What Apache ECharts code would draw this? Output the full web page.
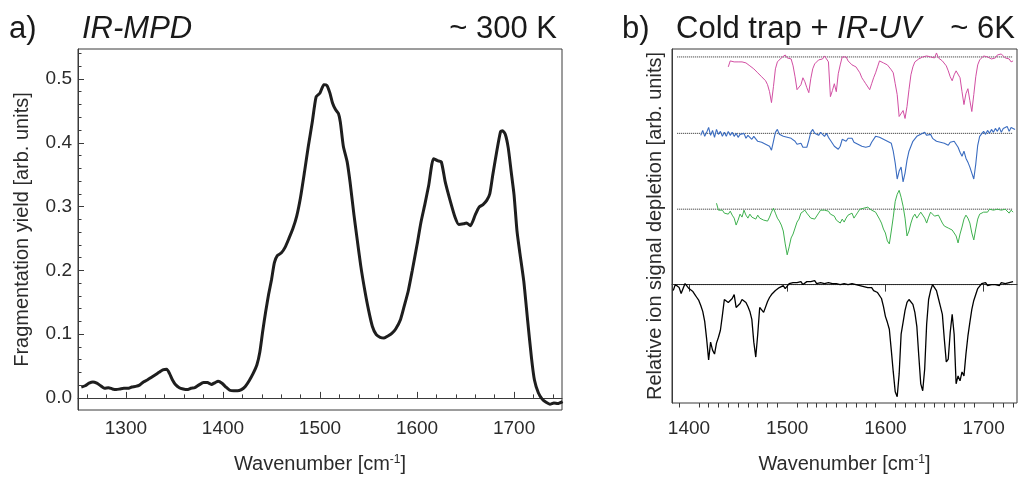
<!DOCTYPE html>
<html><head><meta charset="utf-8">
<script src="https://cdn.jsdelivr.net/npm/echarts@6/dist/echarts.min.js"></script>
<style>html,body{margin:0;padding:0;background:#fff}#c{width:1020px;height:479px}</style>
</head><body><div id="c"></div>
<script>
// ---------- Panel a) IR-MPD (~300 K) ----------
const irmpdWn = [1254,1258,1262,1266,1270,1274,1278,1282,1286,1290,1294,1298,1302,1306,1310,1314,1318,1322,1326,1330,1334,1338,1342,1345,1348,1351,1355,1359,1363,1367,1371,1375,1380,1384,1388,1392,1395,1399,1403,1407,1411,1415,1419,1423,1427,1431,1435,1438,1441,1444,1447,1450,1453,1456,1460,1464,1468,1472,1476,1480,1484,1488,1492,1496,1500,1504,1507,1510,1513,1516,1519,1521,1524,1528,1531,1535,1538,1542,1546,1550,1554,1558,1562,1566,1570,1574,1578,1583,1587,1591,1595,1600,1604,1608,1612,1617,1621,1625,1629,1634,1639,1643,1648,1651,1655,1660,1664,1668,1672,1675,1678,1682,1686,1688,1691,1694,1697,1700,1703,1706,1710,1714,1718,1721,1725,1729,1733,1737,1741,1745,1750];
const irmpdYield = [0.017,0.019,0.023,0.025,0.023,0.019,0.015,0.016,0.014,0.013,0.014,0.015,0.015,0.017,0.018,0.020,0.025,0.028,0.032,0.036,0.040,0.044,0.045,0.038,0.028,0.021,0.016,0.014,0.013,0.015,0.016,0.020,0.024,0.024,0.021,0.024,0.026,0.023,0.017,0.012,0.011,0.011,0.013,0.018,0.027,0.038,0.052,0.072,0.105,0.135,0.162,0.185,0.212,0.223,0.227,0.236,0.250,0.265,0.285,0.315,0.354,0.395,0.432,0.472,0.478,0.491,0.490,0.479,0.462,0.452,0.446,0.432,0.395,0.370,0.338,0.287,0.252,0.207,0.170,0.138,0.112,0.099,0.095,0.094,0.097,0.101,0.108,0.123,0.145,0.168,0.199,0.240,0.275,0.303,0.333,0.375,0.372,0.370,0.339,0.310,0.284,0.272,0.273,0.274,0.270,0.287,0.299,0.303,0.310,0.320,0.349,0.385,0.417,0.419,0.413,0.392,0.355,0.318,0.262,0.227,0.183,0.121,0.062,0.028,0.008,-0.002,-0.007,-0.010,-0.008,-0.009,-0.006];
const xTicksA = [1300,1400,1500,1600,1700];
const yTicksA = [0.0,0.1,0.2,0.3,0.4,0.5];

// ---------- Panel b) Cold trap + IR-UV (~6 K) ----------
const wnB = [1384,1386,1388,1390,1392,1394,1396,1398,1400,1402,1404,1406,1408,1410,1412,1414,1416,1418,1420,1422,1424,1426,1428,1430,1432,1434,1436,1438,1440,1442,1444,1446,1448,1450,1452,1454,1456,1458,1460,1462,1464,1466,1468,1470,1472,1474,1476,1478,1480,1482,1484,1486,1488,1490,1492,1494,1496,1498,1500,1502,1504,1506,1508,1510,1512,1514,1516,1518,1520,1522,1524,1526,1528,1530,1532,1534,1536,1538,1540,1542,1544,1546,1548,1550,1552,1554,1556,1558,1560,1562,1564,1566,1568,1570,1572,1574,1576,1578,1580,1582,1584,1586,1588,1590,1592,1594,1596,1598,1600,1602,1604,1606,1608,1610,1612,1614,1616,1618,1620,1622,1624,1626,1628,1630,1632,1634,1636,1638,1640,1642,1644,1646,1648,1650,1652,1654,1656,1658,1660,1662,1664,1666,1668,1670,1672,1674,1676,1678,1680,1682,1684,1686,1688,1690,1692,1694,1696,1698,1700,1702,1704,1706,1708,1710,1712,1714,1716,1718,1720,1722,1724,1726,1728,1730,1732];

const pinkFrom = 1440;
const pinkDep = [-10,-4,-3,-5,-3,-5,-3,-5,-3,-6, -6,-9,-8,-12,-14,-16,-16,-20,-22,-24, -28,-35,-46,-30,-12,-5,-4,-1,-2,2, -1,0,-2,-9,-20,-33,-32,-28,-21,-25, -31,-36,-22,-12,-7,-6,-3,-3,-2,1, -2,-5,-40,-34,-27,-35,-17,-8,0,2, 0,-4,-3,-8,-9,-10,-12,-16,-21,-24, -27,-29,-33,-27,-21,-16,-10,-4,-6,-6, -7,-8,-10,-13,-16,-27,-38,-60,-60,-54, -62,-50,-33,-18,-10,-5,-3,-2,-1,0, -1,1,-1,0,2,-1,4,-1,-2,-4, -6,-9,-14,-20,-24,-18,-14,-15,-21,-35, -48,-37,-32,-44,-55,-38,-20,-8,-3,-2, 1,-1,0,1,-2,0,-1,2,1,3, 2,-1,0,-2,-5,-4];

const blueFrom = 1412;
const blueDep = [-2,3,-3,1,6,-2,3,-4,4,-1, 2,-3,1,-3,2,-2,1,-3,0,-4, -1,-3,0,-5,-2,-4,-6,-3,-5,-8, -6,-9,-8,-11,-12,-13,-17,-8,1,4, -1,1,-3,-1,-4,-2,-5,-4,-8,-11, -13,-10,-14,-12,-14,-7,1,4,0,1, -2,1,-1,-3,0,-4,-7,-9,-13,-11, -16,-13,-6,-4,-8,-5,-7,-5,-9,-7, -11,-10,-13,-11,-14,-12,-13,-9,-7,-3, -1,-4,-2,-6,-5,-8,-6,-10,-18,-30, -46,-38,-34,-49,-40,-27,-18,-13,-8,-6, -3,-5,-1,-3,1,-2,-4,-1,-5,-3, -8,-6,-9,-7,-10,-8,-12,-9,-11,-8, -10,-14,-19,-23,-18,-25,-29,-34,-40,-46, -31,-12,-3,-1,2,-1,3,0,4,1, 5,2,6,1,5,3,7,2,6,8,4];

const greenFrom = 1428;
const greenDep = [6,-1,-3,-1,-4,-3,-5,-2,-6,-9, -16,-11,-5,-8,-1,-6,-9,-5,-8,-7, -10,-6,-9,-7,-11,-9,-12,-8,-3,1, -4,-9,-12,-16,-22,-35,-46,-38,-29,-25, -19,-13,-10,-4,-2,-1,-4,-6,-9,-7, -10,-8,-4,-1,-3,-1,-3,-2,-5,-4, -7,-11,-9,-14,-10,-13,-9,-6,-7,-4, -9,-6,-3,0,-2,1,-1,2,0,-1, 1,-3,-5,-10,-14,-20,-24,-32,-35,-22, -8,8,15,19,12,3,-9,-27,-22,-14, -8,-5,-9,-6,-3,-4,-9,-14,-8,-3, -4,-7,-9,-6,-10,-14,-17,-15,-19,-18, -21,-20,-27,-34,-25,-18,-10,-6,-9,-14, -24,-31,-20,-10,-5,-7,-3,-1,-3,0, -2,-1,-3,0,-2,-1,-3,0,-2,-4, -1,-3];

const blackFrom = 1384;
const blackDep = [-6,0,2,-3,-9,-4,1,-1,-4,-3, -7,-10,-13,-16,-21,-27,-37,-55,-76,-58, -66,-70,-59,-53,-46,-31,-15,-14,-18,-20, -14,-10,-23,-21,-19,-15,-13,-18,-22,-27, -35,-58,-73,-50,-23,-22,-28,-30,-17,-13, -10,-8,-6,-7,-3,-4,-1,-4,-2,1, -1,2,0,2,1,3,0,2,3,1, 3,2,4,1,3,2,4,1,3,2, 4,1,3,1,2,0,2,1,3,0, 2,1,2,0,1,-1,1,-2,-1,-3, -2,-3,-6,-5,-8,-10,-14,-22,-32,-38, -45,-66,-88,-108,-113,-90,-50,-38,-26,-18, -15,-17,-20,-28,-42,-72,-100,-107,-85,-40, -15,-6,0,-3,-6,-14,-22,-30,-55,-78, -75,-48,-30,-50,-100,-92,-97,-88,-92,-70, -52,-38,-25,-16,-10,-4,-2,1,0,2, -1,1,0,2,0,1,-1,2,0,1, -1,2,1,3];

const traceOffsets = [229.4, 152.4, 76.0, 0];   // pink, blue, green, black
const baselineFrom = 1388, baselineTo = 1729;
const xTicksB = [1400,1500,1600,1700];

// ---------- build ----------
const FF = 'Liberation Sans, Arial, Helvetica, sans-serif';
const TXT = '#2b2b2b';
const AX = '#3a3a3a';

const minorA = [];
for (let v = 1260; v <= 1740; v += 20) if (xTicksA.indexOf(v) < 0) minorA.push(v);
const minorYA = [];
for (let k = 0; k <= 27; k++) { if (k % 5 !== 0) minorYA.push(Math.round(k * 2) / 100); }
const minorB = [];
for (let v = 1390; v <= 1730; v += 10) if (xTicksB.indexOf(v) < 0) minorB.push(v);

const irmpdData = irmpdWn.map((w, i) => [w, irmpdYield[i]]);
function trace(from, dep, off) {
  const i0 = wnB.indexOf(from);
  return dep.map((v, k) => [wnB[i0 + k], v + off]);
}
const traces = [
  {d: trace(pinkFrom, pinkDep, traceOffsets[0]), c: '#d24fa3', w: 1},
  {d: trace(blueFrom, blueDep, traceOffsets[1]), c: '#3a6cc0', w: 1.1},
  {d: trace(greenFrom, greenDep, traceOffsets[2]), c: '#3fb14f', w: 1},
  {d: trace(blackFrom, blackDep, traceOffsets[3]), c: '#000000', w: 1.3}
];

const nameStyle = {fontSize: 20, color: TXT, fontFamily: FF,
  rich: {sup: {fontSize: 12, color: TXT, fontFamily: FF, verticalAlign: 'top', padding: [0, 0, 7, 0]}}};
const labelStyle = {fontSize: 19, color: TXT, fontFamily: FF};
const titleStyle = {fontSize: 31, fontWeight: 'normal', color: '#1a1a1a', fontFamily: FF};
const titleItalic = Object.assign({}, titleStyle, {fontStyle: 'italic'});
const plain = v => String(Math.round(v));

const series = [{
  type: 'line', xAxisIndex: 0, yAxisIndex: 0, data: irmpdData, symbol: 'none', smooth: 0.2,
  lineStyle: {color: '#1e1e1e', width: 3}, z: 3
}];
traceOffsets.forEach(off => series.push({
  type: 'line', xAxisIndex: 2, yAxisIndex: 2, data: [[baselineFrom, off], [baselineTo, off]],
  symbol: 'none', lineStyle: {color: '#222', width: 1, type: [1, 1]}, z: 2, silent: true
}));
traces.forEach(t => series.push({
  type: 'line', xAxisIndex: 2, yAxisIndex: 2, data: t.d, symbol: 'none',
  lineStyle: {color: t.c, width: t.w}, z: 3
}));

const option = {
  animation: false,
  backgroundColor: '#fff',
  title: [
    {text: 'a)', left: 9, top: 14, padding: 0, textStyle: titleStyle},
    {text: 'IR-MPD', left: 82, top: 14, padding: 0, textStyle: titleItalic},
    {text: '~ 300 K', right: 463, top: 14, padding: 0, textStyle: titleStyle},
    {text: 'b)', left: 622, top: 14, padding: 0, textStyle: titleStyle},
    {text: 'Cold trap + {i|IR-UV}', left: 676, top: 14, padding: 0,
      textStyle: Object.assign({}, titleStyle, {rich: {i: titleItalic}})},
    {text: '~ 6K', right: 5, top: 14, padding: 0, textStyle: titleStyle}
  ],
  grid: [
    {left: 78, right: 458, top: 49, bottom: 66, show: true, borderColor: AX, borderWidth: 1},
    {left: 672, right: 3, top: 49, bottom: 73, show: true, borderColor: AX, borderWidth: 1}
  ],
  xAxis: [
    {gridIndex: 0, type: 'value', position: 'bottom', min: 1250.6, max: 1749.4,
      axisLine: {lineStyle: {color: AX}},
      axisTick: {inside: true, length: 6, customValues: xTicksA, lineStyle: {color: AX}},
      axisLabel: {customValues: xTicksA, margin: 9, formatter: plain, ...labelStyle},
      splitLine: {show: false},
      name: 'Wavenumber [cm{sup|-1}]', nameLocation: 'middle', nameGap: 44, nameTextStyle: nameStyle},
    {gridIndex: 0, type: 'value', position: 'bottom', min: 1250.6, max: 1749.4,
      axisLine: {show: false},
      axisTick: {inside: true, length: 3.5, customValues: minorA, lineStyle: {color: AX}},
      axisLabel: {show: false}, splitLine: {show: false}},
    {gridIndex: 1, type: 'value', position: 'bottom', min: 1382.7, max: 1734,
      axisLine: {lineStyle: {color: AX}},
      axisTick: {inside: false, length: 7, customValues: xTicksB, lineStyle: {color: AX}},
      axisLabel: {customValues: xTicksB, margin: 16, formatter: plain, ...labelStyle},
      splitLine: {show: false},
      name: 'Wavenumber [cm{sup|-1}]', nameLocation: 'middle', nameGap: 51, nameTextStyle: nameStyle},
    {gridIndex: 1, type: 'value', position: 'bottom', min: 1382.7, max: 1734,
      axisLine: {show: false},
      axisTick: {inside: false, length: 4.5, customValues: minorB, lineStyle: {color: AX}},
      axisLabel: {show: false}, splitLine: {show: false}}
  ],
  yAxis: [
    {gridIndex: 0, type: 'value', position: 'left', min: -0.019, max: 0.547,
      axisLine: {show: true, lineStyle: {color: AX}},
      axisTick: {show: true, inside: true, length: 6, customValues: yTicksA, lineStyle: {color: AX}},
      axisLabel: {customValues: yTicksA, margin: 6, formatter: v => v.toFixed(1), ...labelStyle},
      splitLine: {show: false},
      name: 'Fragmentation yield [arb. units]', nameLocation: 'middle', nameGap: 46, nameTextStyle: nameStyle},
    {gridIndex: 0, type: 'value', position: 'left', min: -0.019, max: 0.547,
      axisLine: {show: false},
      axisTick: {show: true, inside: true, length: 3.5, customValues: minorYA, lineStyle: {color: AX}},
      axisLabel: {show: false}, splitLine: {show: false}},
    {gridIndex: 1, type: 'value', position: 'left', min: -119.3, max: 237.4,
      axisLine: {show: true, lineStyle: {color: AX}},
      axisTick: {show: false}, axisLabel: {show: false}, splitLine: {show: false},
      name: 'Relative ion signal depletion [arb. units]', nameLocation: 'middle', nameGap: 7, nameTextStyle: nameStyle}
  ],
  series: series
};
const chart = echarts.init(document.getElementById('c'), null, {renderer: 'canvas'});
chart.setOption(option);
</script>
</body></html>
